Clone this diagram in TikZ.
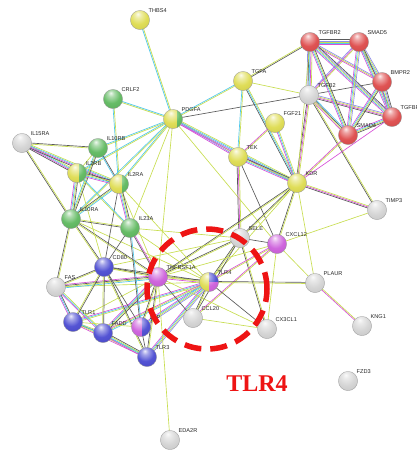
\documentclass[tikz,border=0pt]{standalone}
\usepackage{fontspec}
\newfontfamily\labfont{Liberation Sans}
\newfontfamily\bigfont{Liberation Serif}
\usetikzlibrary{calc,backgrounds}
\definecolor{ey}{RGB}{200,222,80}
\definecolor{ek}{RGB}{90,90,90}
\definecolor{ec}{RGB}{80,200,235}
\definecolor{em}{RGB}{215,80,215}
\definecolor{eb}{RGB}{140,140,235}
\definecolor{nyel}{RGB}{222,220,80}
\definecolor{ngrn}{RGB}{95,185,95}
\definecolor{nred}{RGB}{222,75,75}
\definecolor{nwht}{RGB}{212,212,212}
\definecolor{nblu}{RGB}{75,75,210}
\definecolor{nmag}{RGB}{205,95,220}
\definecolor{ringred}{RGB}{238,20,20}
\colorlet{ballc}{nyel}
\pgfdeclareradialshading[ballc]{sball}{\pgfqpoint{-6bp}{16bp}}{%
 color(0bp)=(ballc!10!white); color(8bp)=(ballc!50!white); color(22bp)=(ballc!95!white);
 color(42bp)=(ballc!92!black); color(58bp)=(ballc!75!black); color(72bp)=(ballc!55!black)}
\tikzset{
 gnode/.style={circle, minimum size=19.2pt, inner sep=0pt, draw=black!40, line width=0.3pt},
 glabel/.style={font=\labfont\fontsize{5.6}{6}\selectfont, text=black!85, inner sep=0pt, anchor=base west},
 eline/.style={line width=0.65pt},
 ring/.style={circle, minimum size=120pt, inner sep=0pt, draw=ringred, line width=5.5pt, dash pattern=on 17pt off 9pt},
}
\newcommand\gene[5]{%
  \colorlet{ballc}{#4}%
  \shade[shading=sball] (#2,#3) circle[radius=9.6pt];
  \node[gnode] (#1) at (#2,#3) {};
  \node[glabel] (#1-t) at (#2+8.5,#3-7.5) {#5};}
\newcommand\geneonly[4]{%
  \node[gnode] (#1) at (#2,#3) {};
  \node[glabel] (#1-t) at (#2+8.5,#3-7.5) {#4};}
\newcommand\piece[7]{%
  \begin{scope}\colorlet{ballc}{#7}\clip (#1,#2) rectangle (#3,#4);
  \shade[shading=sball] (#5,#6) circle[radius=9.6pt];\end{scope}}
\newcommand\ed[3]{%
  \foreach \cc [count=\ii] in {#3}{\xdef\ntot{\ii}}%
  \foreach \cc [count=\ii] in {#3}{%
    \pgfmathsetmacro\off{(\ii-(\ntot+1)/2)*1.1}%
    \draw[eline,\cc] ($(#1.center)!\off pt!90:(#2.center)$) -- ($(#2.center)!\off pt!-90:(#1.center)$);
  }}
\begin{document}
\begin{tikzpicture}[x=1pt,y=-1pt]
\useasboundingbox (0,0) rectangle (417,453);
% ---------- nodes ----------
\gene{THBS4}{140}{20}{nyel}{THBS4}
\gene{CRLF2}{113}{99}{ngrn}{CRLF2}
\piece{162}{108}{177}{130}{173}{119}{nyel}
\piece{177}{108}{184}{130}{173}{119}{ngrn}
\geneonly{PDGFA}{173}{119}{PDGFA}
\gene{IL15RA}{22}{143}{nwht}{IL15RA}
\gene{IL10RB}{98}{148}{ngrn}{IL10RB}
\gene{TGFBR2}{310}{42}{nred}{TGFBR2}
\gene{SMAD5}{359}{42}{nred}{SMAD5}
\gene{TGFA}{243}{81}{nyel}{TGFA}
\gene{TGFB2}{309}{95}{nwht}{TGFB2}
\gene{BMPR2}{382}{82}{nred}{BMPR2}
\gene{TGFBR1}{392}{117}{nred}{TGFBR1}
\gene{FGF21}{275}{123}{nyel}{FGF21}
\gene{SMAD4}{348}{135}{nred}{SMAD4}
\gene{TEK}{238}{157}{nyel}{TEK}
\gene{KDR}{297}{183}{nyel}{KDR}
\gene{TIMP3}{377}{210}{nwht}{TIMP3}
\gene{SELE}{240}{238}{nwht}{SELE}
\gene{CXCL12}{277}{244}{nmag}{CXCL12}
\gene{PLAUR}{315}{283}{nwht}{PLAUR}
\piece{198}{271}{209}{293}{209}{282}{nyel}
\piece{209}{271}{220}{282}{209}{282}{nblu}
\piece{209}{282}{220}{293}{209}{282}{nmag}
\geneonly{TLR4}{209}{282}{TLR4}
\piece{66}{162}{79}{184}{77}{173}{nyel}
\piece{79}{162}{88}{184}{77}{173}{ngrn}
\geneonly{IL2RB}{77}{173}{IL2RB}
\piece{108}{173}{122}{195}{119}{184}{nyel}
\piece{122}{173}{130}{195}{119}{184}{ngrn}
\geneonly{IL2RA}{119}{184}{IL2RA}
\gene{IL10RA}{71}{219}{ngrn}{IL10RA}
\gene{IL23A}{130}{228}{ngrn}{IL23A}
\gene{CD80}{104}{267}{nblu}{CD80}
\gene{FAS}{56}{287}{nwht}{FAS}
\gene{TNFRSF1A}{158}{277}{nmag}{TNFRSF1A}
\gene{TLR1}{73}{322}{nblu}{TLR1}
\gene{FADD}{103}{333}{nblu}{FADD}
\piece{130}{316}{142}{338}{141}{327}{nmag}
\piece{142}{316}{152}{338}{141}{327}{nblu}
\geneonly{LBP}{141}{327}{LBP}
\gene{TLR3}{147}{357}{nblu}{TLR3}
\gene{EDA2R}{170}{440}{nwht}{EDA2R}
\gene{CCL20}{193}{318}{nwht}{CCL20}
\gene{CX3CL1}{267}{329}{nwht}{CX3CL1}
\gene{KNG1}{362}{326}{nwht}{KNG1}
\gene{FZD3}{348}{381}{nwht}{FZD3}
% ---------- edges ----------
\begin{pgfonlayer}{background}
\fill[white] (0,0) rectangle (417,453);
\ed{THBS4}{PDGFA}{ec,ey}
\ed{CRLF2}{PDGFA}{ey,ec}
\ed{CRLF2}{IL2RA}{ec,ey}
\ed{PDGFA}{IL10RB}{ec,ey}
\ed{PDGFA}{IL2RB}{ec,ey}
\ed{PDGFA}{IL2RA}{ec,ey}
\ed{PDGFA}{IL10RA}{ec,ey}
\ed{PDGFA}{IL23A}{ey}
\ed{PDGFA}{TGFA}{ey,ec}
\ed{PDGFA}{TGFB2}{ek}
\ed{PDGFA}{TEK}{em,eb,ey}
\ed{PDGFA}{KDR}{em,eb,ec,ey}
\ed{PDGFA}{CXCL12}{ey}
\ed{PDGFA}{TNFRSF1A}{ey}
\ed{TGFA}{TGFB2}{ey}
\ed{TGFA}{TGFBR2}{ek,ey}
\ed{TGFA}{TEK}{ec,ey}
\ed{TGFA}{KDR}{ek,ec,ey}
\ed{TGFB2}{TGFBR2}{ey,em,ec,ek,eb}
\ed{TGFB2}{SMAD5}{ey,em,eb}
\ed{TGFB2}{BMPR2}{ek}
\ed{TGFB2}{TGFBR1}{ek,em,ey,eb}
\ed{TGFB2}{SMAD4}{em,ey,ek,ec}
\ed{TGFB2}{KDR}{ek,em,ey}
\ed{TGFB2}{TIMP3}{ek,ey}
\ed{TGFBR2}{SMAD5}{em,ec,ey,eb,ek}
\ed{TGFBR2}{BMPR2}{em,ey,eb}
\ed{TGFBR2}{TGFBR1}{em,ec,ey,eb,ek}
\ed{TGFBR2}{SMAD4}{em,ec,ey,ek}
\ed{TGFBR2}{KDR}{ey}
\ed{SMAD5}{BMPR2}{em,ec,ey,eb}
\ed{SMAD5}{TGFBR1}{em,ec,ey,ek}
\ed{SMAD5}{SMAD4}{em,ec,ey,eb}
\ed{BMPR2}{TGFBR1}{em,ec,ey,eb,ek}
\ed{BMPR2}{SMAD4}{em,ec,ey,ek}
\ed{TGFBR1}{SMAD4}{em,ec,ey,ek}
\ed{SMAD4}{KDR}{em,ey}
\ed{TGFBR1}{KDR}{em}
\ed{FGF21}{KDR}{em,ec,ey}
\ed{FGF21}{TEK}{em,ey}
\ed{TEK}{KDR}{em,ec,ey,ek}
\ed{TEK}{SELE}{ek,em,ey}
\ed{TEK}{CXCL12}{ek}
\ed{KDR}{TIMP3}{ek,em,ey}
\ed{KDR}{SELE}{ek,ey}
\ed{KDR}{CXCL12}{ek,ey}
\ed{KDR}{PLAUR}{ey}
\ed{KDR}{TLR4}{ey}
\ed{KDR}{TNFRSF1A}{ek,ey}
\ed{TIMP3}{CXCL12}{ey}
\ed{SELE}{CXCL12}{ek}
\ed{SELE}{TLR4}{ek,ey}
\ed{SELE}{TNFRSF1A}{ek,ey}
\ed{SELE}{CX3CL1}{ek,ey}
\ed{SELE}{CD80}{ey}
\ed{SELE}{IL23A}{ey}
\ed{SELE}{CCL20}{ek}
\ed{CXCL12}{TLR4}{em,ey}
\ed{CXCL12}{PLAUR}{ey}
\ed{CXCL12}{CCL20}{em,ey}
\ed{CXCL12}{CX3CL1}{ey}
\ed{CXCL12}{TNFRSF1A}{ey}
\ed{PLAUR}{KNG1}{em,ey}
\ed{PLAUR}{TLR4}{ek,ey}
\ed{TLR4}{TNFRSF1A}{ek,ey,em}
\ed{TLR4}{CCL20}{ek,ey}
\ed{TLR4}{CX3CL1}{ek}
\ed{TLR4}{LBP}{em,ec,ey,eb}
\ed{TLR4}{TLR3}{em,ec,ey,eb}
\ed{TLR4}{TLR1}{em,ec,ey}
\ed{TLR4}{FADD}{em,ey,ec}
\ed{TLR4}{CD80}{ek,ey}
\ed{TLR4}{FAS}{ey}
\ed{TLR4}{IL23A}{ey}
\ed{TLR4}{IL10RA}{ey}
\ed{TLR4}{IL2RA}{ey}
\ed{EDA2R}{TNFRSF1A}{ey}
\ed{CCL20}{TNFRSF1A}{ek}
\ed{CCL20}{CX3CL1}{ey}
\ed{CX3CL1}{TNFRSF1A}{ey}
\ed{TNFRSF1A}{CD80}{ek,ey}
\ed{TNFRSF1A}{FAS}{em,ek,ey,ec}
\ed{TNFRSF1A}{FADD}{em,ec,ey,ek}
\ed{TNFRSF1A}{TLR1}{ey}
\ed{TNFRSF1A}{TLR3}{ek,ey}
\ed{TNFRSF1A}{LBP}{ek,ey}
\ed{TNFRSF1A}{IL10RA}{ek,ey}
\ed{TNFRSF1A}{IL23A}{em,ek}
\ed{TNFRSF1A}{IL2RA}{ey}
\ed{FAS}{CD80}{ey,ek}
\ed{FAS}{TLR1}{em,ec,ek}
\ed{FAS}{FADD}{em,ec,ey}
\ed{FAS}{IL10RA}{ey,ek}
\ed{TLR1}{FADD}{ek,ey}
\ed{TLR1}{TLR3}{em,ey,ec}
\ed{TLR1}{CD80}{ek,ey}
\ed{TLR1}{LBP}{ey}
\ed{FADD}{TLR3}{em,ec,ey,ek}
\ed{FADD}{CD80}{ek,ey}
\ed{LBP}{TLR3}{ek}
\ed{LBP}{CD80}{ek}
\ed{LBP}{IL23A}{ec,ek}
\ed{TLR3}{CD80}{ek,ey}
\ed{CD80}{IL10RA}{ek,ey}
\ed{CD80}{IL2RA}{ek}
\ed{CD80}{IL23A}{ek}
\ed{CD80}{IL2RB}{ey}
\ed{IL15RA}{IL2RB}{ek,em,ec,ey}
\ed{IL15RA}{IL2RA}{ek,em,ec,ey}
\ed{IL15RA}{IL10RB}{ey,ek}
\ed{IL15RA}{IL10RA}{ek,ey}
\ed{IL10RB}{IL2RB}{ey}
\ed{IL10RB}{IL2RA}{ec,ek}
\ed{IL10RB}{IL10RA}{ec,ey,ek}
\ed{IL2RB}{IL2RA}{em,ec,ey,ek}
\ed{IL2RB}{IL10RA}{em,ec,ey,ek}
\ed{IL2RB}{IL23A}{ey,ec}
\ed{IL2RA}{IL10RA}{ek,ey,ec}
\ed{IL2RA}{IL23A}{em,ec,ey,ek}
\ed{IL10RA}{IL23A}{ek,ey}
\end{pgfonlayer}
% ---------- highlight ----------
\node[ring] (focus) at (207,289) {};
\node[font=\bigfont\bfseries\fontsize{24}{24}\selectfont, text=ringred, inner sep=0pt] (tlrtext) at (257,384) {TLR4};
\end{tikzpicture}
\end{document}
